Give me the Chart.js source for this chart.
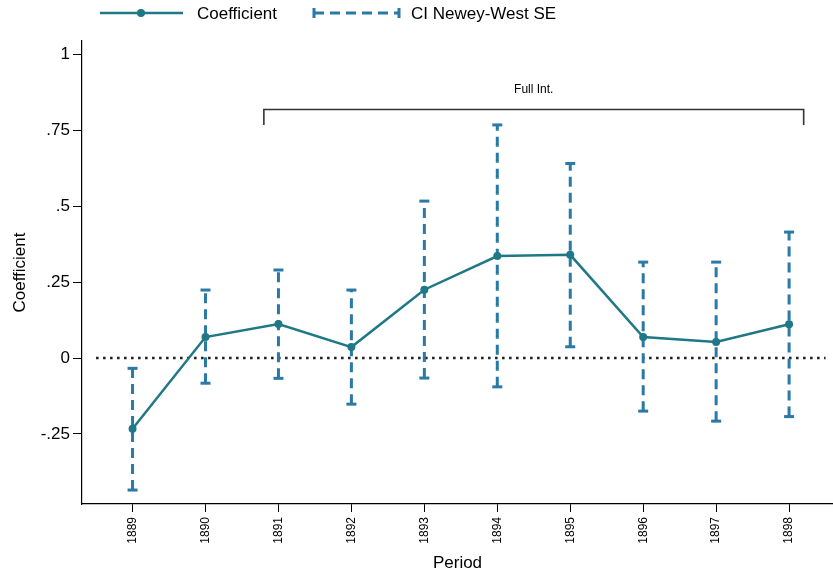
<!DOCTYPE html>
<html>
<head>
<meta charset="utf-8">
<script src="https://cdn.jsdelivr.net/npm/chart.js@4"></script>
<style>
  body { margin: 0; background: #fff; }
</style>
</head>
<body>
<canvas id="chart" width="833" height="574"></canvas>
<script>
// data
const years = [1889, 1890, 1891, 1892, 1893, 1894, 1895, 1896, 1897, 1898];
const coef = [-0.233, 0.069, 0.112, 0.036, 0.225, 0.336, 0.340, 0.069, 0.053, 0.111];
const ciLow = [-0.435, -0.083, -0.067, -0.152, -0.066, -0.095, 0.037, -0.175, -0.208, -0.193];
const ciHigh = [-0.034, 0.224, 0.290, 0.224, 0.517, 0.768, 0.641, 0.316, 0.316, 0.415];

const yTicks = [-0.25, 0, 0.25, 0.5, 0.75, 1];
const yTickLabels = ["-.25", "0", ".25", ".5", ".75", "1"];

// "Full Int." bracket (in data units)
const bracketX = [1890.8, 1890.8, 1898.2, 1898.2];
const bracketY = [0.768, 0.819, 0.819, 0.768];
const bracketLabel = "Full Int.";
const bracketLabelPos = { x: 1894.5, y: 0.883 };

const zeroLineX = [1888.5, 1898.5];

const FONT = "'Liberation Sans', Arial, Helvetica, sans-serif";
const LINE_COLOR = "#1e7886";
const CI_COLOR = "#2a79a6";

Chart.defaults.font.family = FONT;
Chart.defaults.color = "#000";

const datasets = [];

// dotted zero line
datasets.push({
  data: zeroLineX.map(x => ({ x, y: 0 })),
  borderColor: "#1a1a1a",
  borderWidth: 2.5,
  borderDash: [2.5, 4.5],
  pointRadius: 0,
  order: 3
});

// one dashed CI bar per year, caps as "line" points
years.forEach((yr, i) => {
  datasets.push({
    data: [{ x: yr, y: ciLow[i] }, { x: yr, y: ciHigh[i] }],
    borderColor: CI_COLOR,
    borderWidth: 3,
    borderDash: [10, 6],
    pointStyle: "line",
    pointRadius: 5,
    pointBorderWidth: 3,
    pointBorderColor: CI_COLOR,
    order: 2
  });
});

// coefficient line
datasets.push({
  data: years.map((x, i) => ({ x, y: coef[i] })),
  borderColor: LINE_COLOR,
  borderWidth: 2.5,
  pointRadius: 4,
  pointBackgroundColor: LINE_COLOR,
  pointBorderWidth: 0,
  order: 1
});

// bracket
datasets.push({
  data: bracketX.map((x, i) => ({ x, y: bracketY[i] })),
  borderColor: "#333",
  borderWidth: 1.6,
  pointRadius: 0,
  order: 4
});

// legend + bracket label, drawn by hand (Stata style)
const extras = {
  id: "extras",
  afterDraw(chart) {
    const ctx = chart.ctx;
    const { x: xs, y: ys } = chart.scales;
    ctx.save();

    // bracket label
    ctx.fillStyle = "#000";
    ctx.font = "12px " + FONT;
    ctx.textAlign = "center";
    ctx.textBaseline = "middle";
    ctx.fillText(bracketLabel, xs.getPixelForValue(bracketLabelPos.x), ys.getPixelForValue(bracketLabelPos.y));

    // legend
    const ly = 13;
    ctx.strokeStyle = LINE_COLOR;
    ctx.lineWidth = 2.5;
    ctx.beginPath();
    ctx.moveTo(100, ly);
    ctx.lineTo(183, ly);
    ctx.stroke();
    ctx.fillStyle = LINE_COLOR;
    ctx.beginPath();
    ctx.arc(141, ly, 4, 0, Math.PI * 2);
    ctx.fill();

    ctx.strokeStyle = CI_COLOR;
    ctx.lineWidth = 3;
    ctx.setLineDash([10, 6]);
    ctx.beginPath();
    ctx.moveTo(314, ly);
    ctx.lineTo(399, ly);
    ctx.stroke();
    ctx.setLineDash([]);
    ctx.beginPath();
    ctx.moveTo(314, ly - 5); ctx.lineTo(314, ly + 5);
    ctx.moveTo(399, ly - 5); ctx.lineTo(399, ly + 5);
    ctx.stroke();

    ctx.fillStyle = "#000";
    ctx.font = "17px " + FONT;
    ctx.textAlign = "left";
    ctx.fillText("Coefficient", 197, ly + 1);
    ctx.fillText("CI Newey-West SE", 411, ly + 1);
    ctx.restore();
  }
};

new Chart(document.getElementById("chart"), {
  type: "line",
  data: { datasets },
  plugins: [extras],
  options: {
    responsive: false,
    animation: false,
    events: [],
    layout: { autoPadding: false, padding: { top: 41, left: 0, right: 0, bottom: 0 } },
    plugins: { legend: { display: false }, tooltip: { enabled: false } },
    scales: {
      x: {
        type: "linear",
        min: 1888.307,
        max: 1898.602,
        afterBuildTicks: s => { s.ticks = years.map(v => ({ value: v })); },
        afterFit: s => { s.height = 70; s.paddingLeft = 0; s.paddingRight = 0; },
        ticks: {
          callback: v => String(v),
          minRotation: 90,
          maxRotation: 90,
          autoSkip: false,
          font: { size: 12 },
          padding: 5,
          color: "#000"
        },
        grid: { drawOnChartArea: false, drawTicks: true, tickLength: 8, color: "#000", lineWidth: 1 },
        border: { display: true, color: "#000", width: 1.2 },
        title: { display: true, text: "Period", font: { size: 17 }, padding: { top: 0, bottom: 0 }, color: "#000" }
      },
      y: {
        type: "linear",
        min: -0.481,
        max: 1.0445,
        afterBuildTicks: s => { s.ticks = yTicks.map(v => ({ value: v })); },
        afterFit: s => { s.width = 82; s.paddingTop = 0; s.paddingBottom = 0; },
        ticks: {
          callback: (v, i) => yTickLabels[i],
          font: { size: 17 },
          padding: 3,
          color: "#000"
        },
        grid: { drawOnChartArea: false, drawTicks: true, tickLength: 9, color: "#000", lineWidth: 1 },
        border: { display: true, color: "#000", width: 1.2 },
        title: { display: true, text: "Coefficient", font: { size: 17 }, padding: { top: 10, bottom: 0 }, color: "#000" }
      }
    }
  }
});
</script>
</body>
</html>
